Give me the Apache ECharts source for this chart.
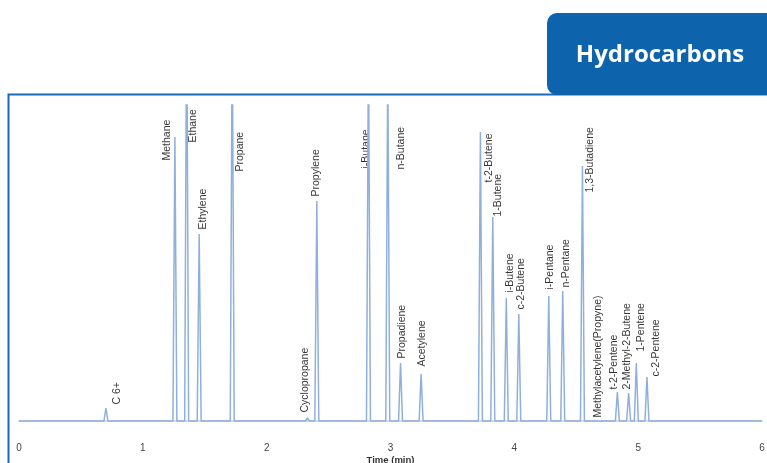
<!DOCTYPE html>
<html>
<head>
<meta charset="utf-8">
<script src="https://cdn.jsdelivr.net/npm/echarts@6/dist/echarts.min.js"></script>
<style>
  html, body { margin: 0; padding: 0; background: #fff; }
  #chart { width: 767px; height: 463px; }
</style>
</head>
<body>
<div id="chart"></div>
<script>
// peak list (retention time in min, height above baseline)
const peakNames = ['C 6+', 'Methane', 'Ethane', 'Ethylene', 'Propane', 'Cyclopropane', 'Propylene',
  'i-Butane', 'n-Butane', 'Propadiene', 'Acetylene', 't-2-Butene', '1-Butene', 'i-Butene',
  'c-2-Butene', 'i-Pentane', 'n-Pentane', '1,3-Butadiene', 'Methylacetylene(Propyne)',
  't-2-Pentene', '2-Methyl-2-Butene', '1-Pentene', 'c-2-Pentene'];
const peakTimes = [0.702, 1.259, 1.354, 1.455, 1.722, 2.330, 2.405,
  2.822, 2.978, 3.081, 3.247, 3.726, 3.826, 3.935,
  4.036, 4.278, 4.391, 4.550, 4.609,
  4.832, 4.923, 4.985, 5.071];
const peakHeights = [13, 284, 420, 187, 400, 3, 220,
  380, 360, 58, 47, 289, 204, 123,
  107, 125, 130, 255, 2,
  29, 28, 58, 44];
const runStart = 0;
const runEnd = 6;
const timeTicks = [0, 1, 2, 3, 4, 5, 6];

// label nudges in px [dx, dy] from the apex (layout only)
const labelNudge = [[12, -3], [-7, 24], [7, 38], [4, -4], [8, 67], [-2, -5], [0, -4],
  [-2, 64], [14, 65], [2, -4], [2, -7], [9, 51], [6, 0], [4, -5],
  [3, -4], [2, -6], [4, -3], [8, 27], [9, -1],
  [-3, -2], [-1, -3], [5, -11], [10, 0]];

const yMin = -16;
const yMax = 316;
const halfWidth = 0.016;

// trace: flat baseline with a narrow peak at each retention time
const trace = [[runStart, 0]];
peakTimes.forEach((t, i) => {
  trace.push([t - halfWidth, 0]);
  trace.push([t, peakHeights[i]]);
  trace.push([t + halfWidth, 0]);
});
trace.push([runEnd, 0]);

const labelPoints = peakTimes.map((t, i) => ({
  value: [t, Math.min(peakHeights[i], yMax)],
  label: { position: labelNudge[i] },
  name: peakNames[i],
}));

const myChart = echarts.init(document.getElementById('chart'));
const option = {
  animation: false,
  grid: { left: 19, right: 5, top: 105, bottom: 26, outerBoundsMode: 'none' },
  xAxis: {
    type: 'value',
    min: runStart,
    max: runEnd,
    interval: 1,
    name: 'Time (min)',
    nameLocation: 'middle',
    nameGap: 18,
    nameMoveOverlap: false,
    nameTextStyle: {
      fontFamily: 'Liberation Sans',
      fontWeight: 'bold',
      fontSize: 9.5,
      color: '#333',
      verticalAlign: 'top',
    },
    axisLine: { lineStyle: { color: '#d0d0d0', width: 1.5 } },
    axisTick: { show: false },
    splitLine: { show: false },
    axisLabel: {
      margin: 6,
      fontFamily: 'Liberation Sans',
      fontSize: 10,
      color: '#444',
      formatter: (v) => (timeTicks.indexOf(v) >= 0 ? String(v) : ''),
    },
  },
  yAxis: {
    type: 'value',
    min: yMin,
    max: yMax,
    show: false,
    splitLine: { show: false },
  },
  series: [
    {
      type: 'line',
      data: trace,
      showSymbol: false,
      clip: true,
      lineStyle: { color: '#8fb0dc', width: 1.5 },
    },
    {
      type: 'scatter',
      data: labelPoints,
      symbolSize: 1,
      clip: false,
      itemStyle: { color: 'rgba(0,0,0,0)' },
      labelLayout: { hideOverlap: false },
      label: {
        show: true,
        formatter: '{b}',
        rotate: 90,
        align: 'left',
        verticalAlign: 'middle',
        fontFamily: 'Liberation Sans',
        fontSize: 10.5,
        color: '#000',
      },
    },
  ],
  graphic: [
    {
      type: 'polyline',
      shape: { points: [[8.5, 463], [8.5, 94.5], [767, 94.5]] },
      style: { stroke: '#1a69b6', lineWidth: 2, fill: null },
    },
    {
      type: 'rect',
      shape: { x: 547, y: 13, width: 240, height: 82, r: [10, 0, 0, 10] },
      style: { fill: '#0e63ad' },
    },
    {
      type: 'text',
      x: 660,
      y: 55,
      style: {
        text: 'Hydrocarbons',
        fill: '#fff',
        font: 'bold 24px "Open Sans"',
        align: 'center',
        verticalAlign: 'middle',
      },
    },
  ],
};
myChart.setOption(option);
</script>
</body>
</html>
